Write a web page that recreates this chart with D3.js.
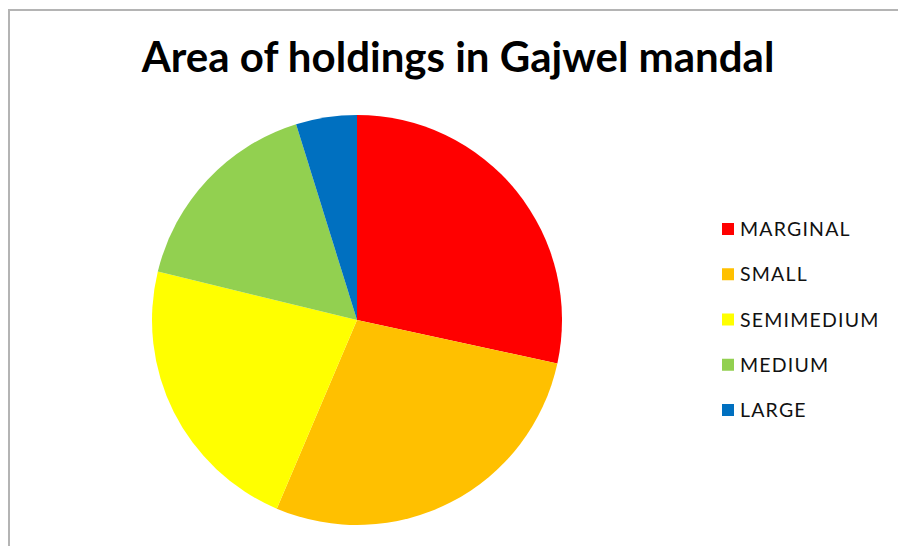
<!DOCTYPE html>
<html>
<head>
<meta charset="utf-8">
<script src="https://cdn.jsdelivr.net/npm/d3@7"></script>
<style>
  html, body { margin: 0; padding: 0; background: #fff; }
  svg { display: block; }
</style>
</head>
<body>
<svg id="chart" width="898" height="546"></svg>
<script>
// Share of holding area by farm size class (percent)
const categories = ["MARGINAL", "SMALL", "SEMIMEDIUM", "MEDIUM", "LARGE"];
const values = [28.4, 28.0, 22.4, 16.4, 4.8];
const colors = ["#FF0000", "#FFC000", "#FFFF00", "#92D050", "#0070C0"];
const title = "Area of holdings in Gajwel mandal";

const svg = d3.select("#chart");
const W = 898, H = 546;

// frame
svg.append("path")
  .attr("d", `M9,${H} L9,10 L${W},10`)
  .attr("fill", "none")
  .attr("stroke", "#b4b4b4")
  .attr("stroke-width", 2);

// title
svg.append("text")
  .attr("x", 458)
  .attr("y", 72)
  .attr("text-anchor", "middle")
  .attr("font-family", "Lato, 'Open Sans', sans-serif")
  .attr("font-weight", "bold")
  .attr("font-size", 42)
  .attr("fill", "#000")
  .text(title);

// pie
const cx = 357, cy = 320, r = 205;
const data = categories.map((c, i) => ({ name: c, value: values[i], color: colors[i] }));
const pie = d3.pie().value(d => d.value).sort(null);
const arc = d3.arc().innerRadius(0).outerRadius(r);

svg.append("g")
  .attr("transform", `translate(${cx},${cy})`)
  .selectAll("path")
  .data(pie(data))
  .join("path")
  .attr("d", arc)
  .attr("fill", d => d.data.color);

// legend
const legendY = d3.scalePoint().domain(categories).range([229, 410]);
const lg = svg.append("g");
const item = lg.selectAll("g").data(data).join("g")
  .attr("transform", d => `translate(722,${legendY(d.name)})`);
item.append("rect")
  .attr("x", 0).attr("y", -6)
  .attr("width", 12).attr("height", 12)
  .attr("fill", d => d.color);
item.append("text")
  .attr("x", 18).attr("y", 0)
  .attr("dy", "0.36em")
  .attr("font-family", "Lato, 'Open Sans', sans-serif")
  .attr("font-size", 19.5)
  .attr("letter-spacing", 1.2)
  .attr("fill", "#111")
  .text(d => d.name);
</script>
</body>
</html>
